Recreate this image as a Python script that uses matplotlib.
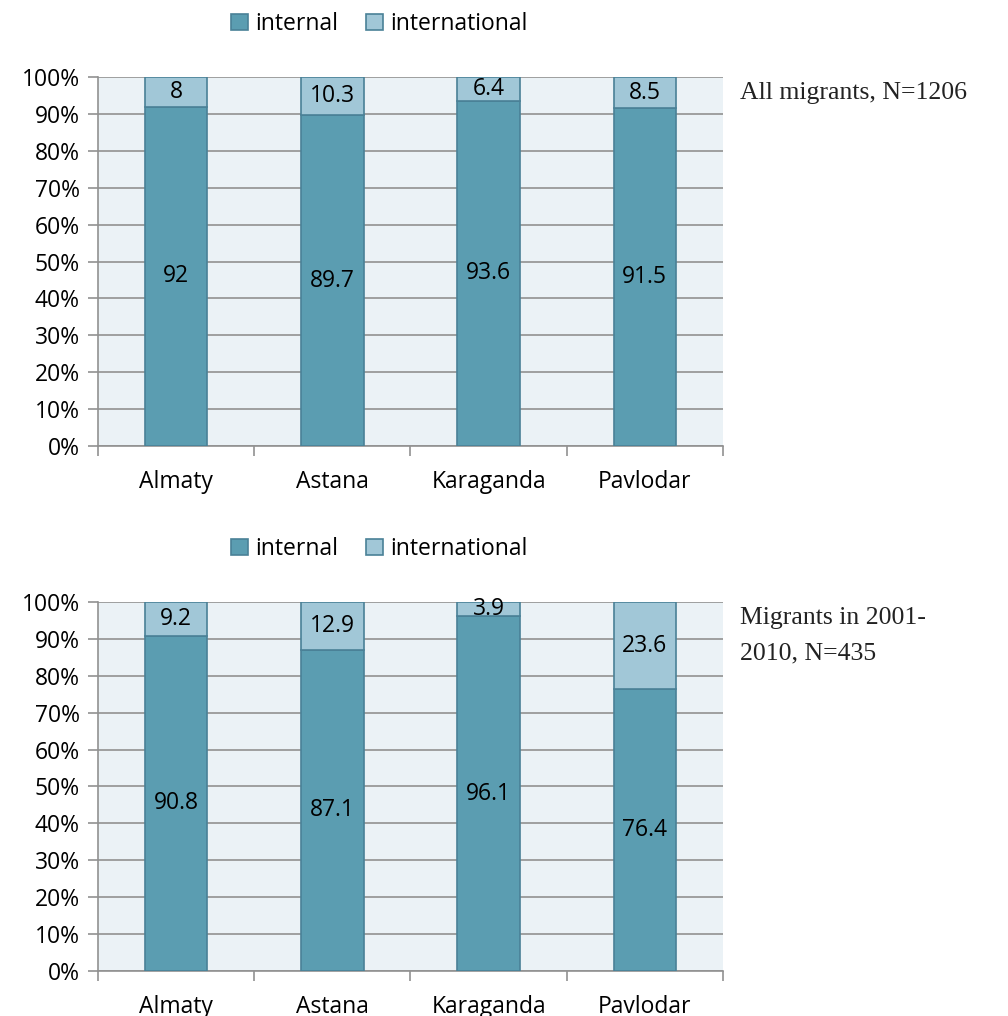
import matplotlib.pyplot as plt
import numpy as np

cities = ["Almaty", "Astana", "Karaganda", "Pavlodar"]
internal_all = [92, 89.7, 93.6, 91.5]
international_all = [8, 10.3, 6.4, 8.5]
internal_recent = [90.8, 87.1, 96.1, 76.4]
international_recent = [9.2, 12.9, 3.9, 23.6]
panel_notes = ["All migrants, N=1206", "Migrants in 2001-\n2010, N=435"]

C_INT = "#5B9DB1"
C_INTL = "#A1C7D7"
C_EDGE = "#4A8197"
C_BG = "#EBF2F6"
C_GRID = "#919191"

plt.rcParams['font.family'] = ['Open Sans', 'DejaVu Sans']
FS = 16.5

fig = plt.figure(figsize=(10.08, 10.16), dpi=100)

panels = [
    (0.561, internal_all, international_all, panel_notes[0]),
    (0.0443, internal_recent, international_recent, panel_notes[1]),
]

for bottom, internal, intl, note in panels:
    ax = fig.add_axes([0.0972, bottom, 0.62, 0.3632])
    ax.set_facecolor(C_BG)
    x = np.arange(len(cities))
    ax.bar(x, internal, width=0.4, color=C_INT, edgecolor=C_EDGE, linewidth=1.2,
           label="internal", zorder=3)
    ax.bar(x, intl, width=0.4, bottom=internal, color=C_INTL, edgecolor=C_EDGE,
           linewidth=1.2, label="international", zorder=3)

    # value labels centred in each segment
    for i in range(len(cities)):
        ax.text(x[i], internal[i] / 2, f"{internal[i]:g}", ha="center", va="center",
                fontsize=FS, zorder=4)
        ax.text(x[i], internal[i] + intl[i] / 2, f"{intl[i]:g}", ha="center", va="center",
                fontsize=FS, zorder=4)

    ax.set_xlim(-0.5, len(cities) - 0.5)
    ax.set_ylim(0, 100)
    ax.set_yticks(np.arange(0, 101, 10))
    ax.set_yticklabels([f"{v}%" for v in range(0, 101, 10)], fontsize=FS)
    ax.yaxis.grid(True, color=C_GRID, linewidth=1.2, zorder=0)
    ax.set_axisbelow(True)

    # category labels between boundary ticks
    ax.set_xticks(np.arange(-0.5, len(cities), 1))
    ax.set_xticklabels([])
    ax.set_xticks(x, minor=True)
    ax.set_xticklabels(cities, minor=True, fontsize=FS)
    ax.tick_params(axis="x", which="minor", length=0, pad=17)
    ax.tick_params(axis="x", which="major", length=7, color=C_GRID, width=1.2)
    ax.tick_params(axis="y", length=7, color=C_GRID, width=1.2, pad=6)

    for s in ["top", "right"]:
        ax.spines[s].set_visible(False)
    for s in ["left", "bottom"]:
        ax.spines[s].set_color(C_GRID)
        ax.spines[s].set_linewidth(1.2)

    ax.legend(loc="lower center", bbox_to_anchor=(0.45, 1.08), ncol=2, frameon=False,
              fontsize=FS, handlelength=0.75, handleheight=0.75, handletextpad=0.3,
              columnspacing=1.2, borderpad=0)

    ax.text(1.028, 0.987, note, transform=ax.transAxes, ha="left", va="top",
            fontsize=18.5, family=["Liberation Serif", "DejaVu Serif"], color="#222222",
            linespacing=1.8)

fig.savefig("out.png", dpi=100)
